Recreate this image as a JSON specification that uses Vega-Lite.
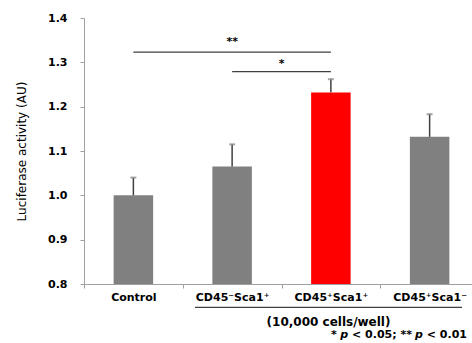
{
  "$schema": "https://vega.github.io/schema/vega-lite/v6.json",
  "width": 395,
  "height": 266,
  "autosize": "none",
  "padding": {"left": 84, "top": 18, "right": 0, "bottom": 59},
  "config": {"view": {"stroke": null}, "font": "DejaVu Sans"},
  "datasets": {
    "bars": [
      {"cell": "Control", "mean": 1.0, "upper": 1.04},
      {"cell": "CD45⁻Sca1⁺", "mean": 1.065, "upper": 1.115},
      {"cell": "CD45⁺Sca1⁺", "mean": 1.232, "upper": 1.262},
      {"cell": "CD45⁺Sca1⁻", "mean": 1.132, "upper": 1.183}
    ],
    "sig": [
      {"from": "Control", "to": "CD45⁺Sca1⁺", "y": 1.323},
      {"from": "CD45⁻Sca1⁺", "to": "CD45⁺Sca1⁺", "y": 1.279}
    ],
    "notes": [
      {"kind": "star", "t": "**", "x": 1.5, "y": 1.345},
      {"kind": "star", "t": "*", "x": 2.0, "y": 1.296},
      {"kind": "line", "x": 1.124, "x2": 3.828, "y": 0.7474},
      {"kind": "cells", "t": "(10,000 cells/well)", "x": 2.476, "y": 0.7143},
      {"kind": "foot", "t": "*", "x": 2.501, "y": 0.685},
      {"kind": "footi", "t": "p", "x": 2.595, "y": 0.685},
      {"kind": "foot", "t": "< 0.05; **", "x": 2.714, "y": 0.685},
      {"kind": "footi", "t": "p", "x": 3.353, "y": 0.685},
      {"kind": "foot", "t": "< 0.01", "x": 3.471, "y": 0.685}
    ]
  },
  "resolve": {"scale": {"x": "independent"}, "axis": {"x": "independent"}},
  "layer": [
    {
      "data": {"name": "bars"},
      "encoding": {
        "x": {
          "field": "cell",
          "type": "nominal",
          "sort": null,
          "scale": {
            "domain": ["Control", "CD45⁻Sca1⁺", "CD45⁺Sca1⁺", "CD45⁺Sca1⁻"],
            "paddingInner": 0,
            "paddingOuter": 0
          },
          "axis": {
            "title": null,
            "labelAngle": 0,
            "labelFont": "DejaVu Sans",
            "labelFontWeight": "bold",
            "labelFontSize": 11,
            "labelColor": "#000000",
            "tickBand": "extent",
            "tickSize": 4,
            "tickColor": "#A0A0A0",
            "domainColor": "#A0A0A0",
            "labelPadding": 3
          }
        }
      },
      "layer": [
        {
          "mark": {"type": "bar", "width": {"band": 0.4}},
          "encoding": {
            "y": {
              "field": "mean",
              "type": "quantitative",
              "scale": {"domain": [0.8, 1.4], "zero": false, "nice": false},
              "axis": {
                "title": "Luciferase activity (AU)",
                "values": [0.8, 0.9, 1.0, 1.1, 1.2, 1.3, 1.4],
                "format": ".1f",
                "grid": false,
                "labelFont": "DejaVu Sans",
                "labelFontWeight": "bold",
                "labelFontSize": 11,
                "labelColor": "#000000",
                "tickSize": 4,
                "tickColor": "#A0A0A0",
                "domainColor": "#A0A0A0",
                "labelPadding": 13,
                "titleFont": "DejaVu Sans",
                "titleFontSize": 12,
                "titleFontWeight": "normal",
                "titleColor": "#000000",
                "titleX": -63,
                "titleY": 133,
                "titleAngle": 270,
                "titleBaseline": "middle"
              }
            },
            "y2": {"datum": 0.8},
            "color": {
              "field": "cell",
              "type": "nominal",
              "scale": {
                "domain": ["Control", "CD45⁻Sca1⁺", "CD45⁺Sca1⁺", "CD45⁺Sca1⁻"],
                "range": ["#808080", "#808080", "#FF0000", "#808080"]
              },
              "legend": null
            }
          }
        },
        {
          "mark": {"type": "rule", "color": "#404040", "strokeWidth": 1.5},
          "encoding": {
            "y": {"field": "mean", "type": "quantitative"},
            "y2": {"field": "upper"}
          }
        },
        {
          "mark": {"type": "tick", "color": "#808080", "size": 6, "thickness": 2},
          "encoding": {"y": {"field": "upper", "type": "quantitative"}}
        },
        {
          "data": {"name": "sig"},
          "mark": {"type": "rule", "color": "#404040", "strokeWidth": 1.2},
          "encoding": {
            "x": {"field": "from", "type": "nominal"},
            "x2": {"field": "to"},
            "y": {"field": "y", "type": "quantitative"}
          }
        }
      ]
    },
    {
      "data": {"name": "notes"},
      "encoding": {
        "x": {"field": "x", "type": "quantitative", "scale": {"domain": [0, 4], "nice": false, "zero": true}, "axis": null},
        "y": {"field": "y", "type": "quantitative"}
      },
      "layer": [
        {
          "transform": [{"filter": "datum.kind === 'star'"}],
          "mark": {"type": "text", "align": "center", "baseline": "middle", "fontSize": 11, "fontWeight": "bold", "color": "#000000"},
          "encoding": {"text": {"field": "t"}}
        },
        {
          "transform": [{"filter": "datum.kind === 'line'"}],
          "mark": {"type": "rule", "color": "#404040", "strokeWidth": 1.2},
          "encoding": {"x2": {"field": "x2"}}
        },
        {
          "transform": [{"filter": "datum.kind === 'cells'"}],
          "mark": {"type": "text", "align": "center", "baseline": "middle", "fontSize": 12, "fontWeight": "bold", "color": "#000000"},
          "encoding": {"text": {"field": "t"}}
        },
        {
          "transform": [{"filter": "datum.kind === 'foot'"}],
          "mark": {"type": "text", "align": "left", "baseline": "middle", "fontSize": 11, "fontWeight": "bold", "color": "#000000"},
          "encoding": {"text": {"field": "t"}}
        },
        {
          "transform": [{"filter": "datum.kind === 'footi'"}],
          "mark": {"type": "text", "align": "left", "baseline": "middle", "fontSize": 11, "fontWeight": "bold", "fontStyle": "italic", "color": "#000000"},
          "encoding": {"text": {"field": "t"}}
        }
      ]
    }
  ]
}
